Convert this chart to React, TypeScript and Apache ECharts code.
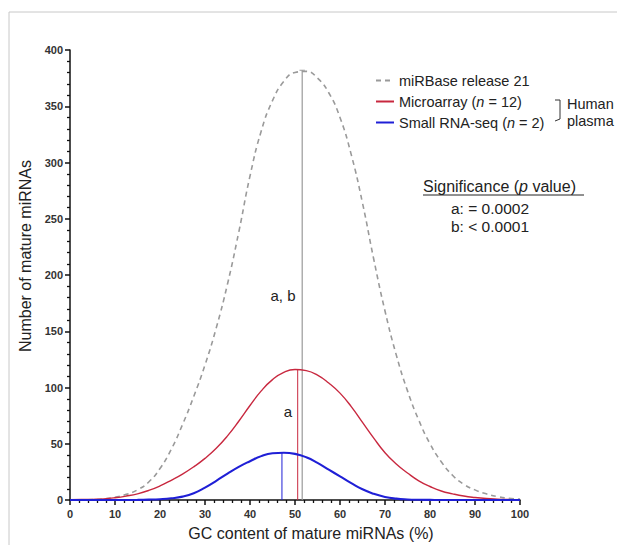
import React, { useEffect, useRef } from "react";
import * as echarts from "echarts";

const xs = [0, 2.5, 5, 7.5, 10, 12.5, 15, 17.5, 20, 22.5, 25, 27.5, 30, 32.5, 35, 37.5, 40, 42.5, 45, 47.5, 50, 52.5, 55, 57.5, 60, 62.5, 65, 67.5, 70, 72.5, 75, 77.5, 80, 82.5, 85, 87.5, 90, 92.5, 95, 97.5, 100];

const mirbase = [0, 0, 0.3, 1, 2.5, 5, 9, 16, 28, 45, 67, 92, 120, 153, 192, 238, 288, 328, 355, 372, 380, 381, 375, 362, 340, 307, 264, 214, 168, 129, 97, 71, 50, 34, 22, 14, 9, 5.5, 3, 1.5, 0.8];

const microarray = [0.2, 0.4, 0.6, 1, 2, 3.5, 5.5, 8.5, 12.5, 17.5, 23, 29.5, 37, 46, 57, 70, 84, 97, 107, 113.5, 116, 115, 111, 104, 95, 83, 69, 55, 42, 32, 24, 17, 12, 8, 5.5, 3.5, 2.2, 1.3, 0.8, 0.5, 0.3];

const smallRnaSeq = [0, 0, 0, 0, 0, 0.05, 0.1, 0.3, 0.7, 1.5, 3, 6, 11, 17, 23.5, 29.5, 34.5, 39, 41.5, 42, 41, 38, 33, 27, 21, 15, 9.5, 5.5, 2.7, 1.2, 0.5, 0.2, 0.1, 0, 0, 0, 0, 0, 0, 0, 0];

const seriesNames = ["miRBase release 21", "Microarray (n = 12)", "Small RNA-seq (n = 2)"];
const peakX = [51.6, 50.6, 47.1];
const peakY = [382, 116, 42];
const capHalfWidth = 0.6;

const FONT = "Liberation Sans, Arial, Helvetica, sans-serif";
const GRAY = "#9a9a9a";
const RED = "#c8283f";
const BLUE = "#1f1fd6";

export default function App() {
  const ref = useRef<HTMLDivElement>(null);
  useEffect(() => {
    if (!ref.current) return;
    const chart = echarts.init(ref.current, null, { renderer: "svg" });
    const pairs = (ys: number[]) => xs.map((x, i) => [x, ys[i]]);
    const colors = [GRAY, RED, BLUE];
    const LF = 14.5;
    const option: any = {
      animation: false,
      backgroundColor: "#ffffff",
      textStyle: { fontFamily: FONT },
      grid: { left: 70, right: 97, top: 50, bottom: 45 },
      legend: {
        data: seriesNames,
        orient: "vertical",
        left: 375,
        top: 73,
        padding: 0,
        itemWidth: 18,
        itemHeight: 10,
        itemGap: 6,
        itemStyle: { opacity: 0, borderWidth: 0 },
        textStyle: {
          fontFamily: FONT,
          fontSize: LF,
          color: "#222",
          rich: {
            t: { fontFamily: FONT, fontSize: LF, lineHeight: 16, color: "#222" },
            i: { fontFamily: FONT, fontSize: LF, lineHeight: 16, color: "#222", fontStyle: "italic" },
          },
        },
        formatter: (name: string) => {
          if (name === seriesNames[1]) return "{t|Microarray (}{i|n}{t| = 12)}";
          if (name === seriesNames[2]) return "{t|Small RNA-seq (}{i|n}{t| = 2)}";
          return "{t|" + name + "}";
        },
      },
      xAxis: {
        type: "value",
        min: 0,
        max: 100,
        interval: 10,
        splitLine: { show: false },
        axisLine: { lineStyle: { color: "#111", width: 1.5 } },
        axisTick: { length: 5, lineStyle: { color: "#111", width: 1.5 } },
        minorTick: { show: true, splitNumber: 5, length: 3, lineStyle: { color: "#111", width: 1.3 } },
        axisLabel: { fontSize: 11, fontWeight: "bold", color: "#333", margin: 8, fontFamily: FONT },
      },
      yAxis: {
        type: "value",
        min: 0,
        max: 400,
        interval: 50,
        splitLine: { show: false },
        axisLine: { show: true, lineStyle: { color: "#111", width: 1.5 } },
        axisTick: { show: true, length: 5, lineStyle: { color: "#111", width: 1.5 } },
        minorTick: { show: true, splitNumber: 5, length: 3, lineStyle: { color: "#111", width: 1.3 } },
        axisLabel: { fontSize: 11, fontWeight: "bold", color: "#333", margin: 7, fontFamily: FONT },
      },
      series: [
        {
          name: seriesNames[0],
          type: "line",
          data: pairs(mirbase),
          smooth: 0.5,
          symbol: "none",
          color: GRAY,
          lineStyle: { color: GRAY, width: 1.6, type: [5, 4] },
          z: 3,
        },
        {
          name: seriesNames[1],
          type: "line",
          data: pairs(microarray),
          smooth: 0.5,
          symbol: "none",
          color: RED,
          lineStyle: { color: RED, width: 1.4 },
          z: 4,
        },
        {
          name: seriesNames[2],
          type: "line",
          data: pairs(smallRnaSeq),
          smooth: 0.5,
          symbol: "none",
          color: BLUE,
          lineStyle: { color: BLUE, width: 2.1 },
          z: 5,
        },
        ...peakX.map((px, i) => ({
          name: "peak" + i,
          type: "line",
          data: [
            [px, 0],
            [px, peakY[i]],
          ],
          symbol: "none",
          lineStyle: { color: colors[i], width: i === 0 ? 1.2 : 1 },
          z: 2,
          silent: true,
        })),
        {
          name: "peakCap",
          type: "line",
          data: [
            [peakX[0] - capHalfWidth, peakY[0]],
            [peakX[0] + capHalfWidth, peakY[0]],
          ],
          symbol: "none",
          lineStyle: { color: GRAY, width: 1.2 },
          z: 2,
          silent: true,
        },
      ],
      graphic: [
        {
          type: "rect",
          shape: { x: 9, y: 12, width: 700, height: 600 },
          style: { fill: "none", stroke: "#c8c8c8", lineWidth: 1 },
          silent: true,
        },
        {
          type: "text",
          x: 283,
          y: 295,
          style: { text: "a, b", font: `15px ${FONT}`, fill: "#222", align: "center", verticalAlign: "middle" },
        },
        {
          type: "text",
          x: 288,
          y: 411,
          style: { text: "a", font: `15px ${FONT}`, fill: "#222", align: "center", verticalAlign: "middle" },
        },
        {
          type: "text",
          x: 423,
          y: 186,
          style: {
            text: "{n|Significance (}{i|p}{n| value)}",
            verticalAlign: "middle",
            rich: {
              n: { fontFamily: FONT, fontSize: 16, fill: "#222" },
              i: { fontFamily: FONT, fontSize: 16, fill: "#222", fontStyle: "italic" },
            },
          },
        },
        {
          type: "line",
          shape: { x1: 423, y1: 195, x2: 584, y2: 195 },
          style: { stroke: "#222", lineWidth: 1 },
        },
        {
          type: "text",
          x: 451,
          y: 208,
          style: { text: "a: = 0.0002", font: `15.5px ${FONT}`, fill: "#222", verticalAlign: "middle" },
        },
        {
          type: "text",
          x: 451,
          y: 226,
          style: { text: "b: < 0.0001", font: `15.5px ${FONT}`, fill: "#222", verticalAlign: "middle" },
        },
        {
          type: "polyline",
          shape: { points: [[555, 100], [560, 100], [560, 119], [555, 121]] },
          style: { stroke: "#333", lineWidth: 1, fill: "none" },
        },
        {
          type: "text",
          x: 567,
          y: 104,
          style: { text: "Human", font: `14.5px ${FONT}`, fill: "#222", verticalAlign: "middle" },
        },
        {
          type: "text",
          x: 567,
          y: 121,
          style: { text: "plasma", font: `14.5px ${FONT}`, fill: "#222", verticalAlign: "middle" },
        },
        {
          type: "text",
          x: 25,
          y: 256,
          rotation: Math.PI / 2,
          style: { text: "Number of mature miRNAs", font: `16px ${FONT}`, fill: "#222", align: "center", verticalAlign: "middle" },
        },
        {
          type: "text",
          x: 311,
          y: 533,
          style: { text: "GC content of mature miRNAs (%)", font: `16px ${FONT}`, fill: "#222", align: "center", verticalAlign: "middle" },
        },
      ],
    };
    chart.setOption(option);
    return () => chart.dispose();
  }, []);
  return (
    <div
      ref={ref}
      style={{ position: "absolute", left: 0, top: 0, width: 617, height: 545, background: "#fff" }}
    />
  );
}
